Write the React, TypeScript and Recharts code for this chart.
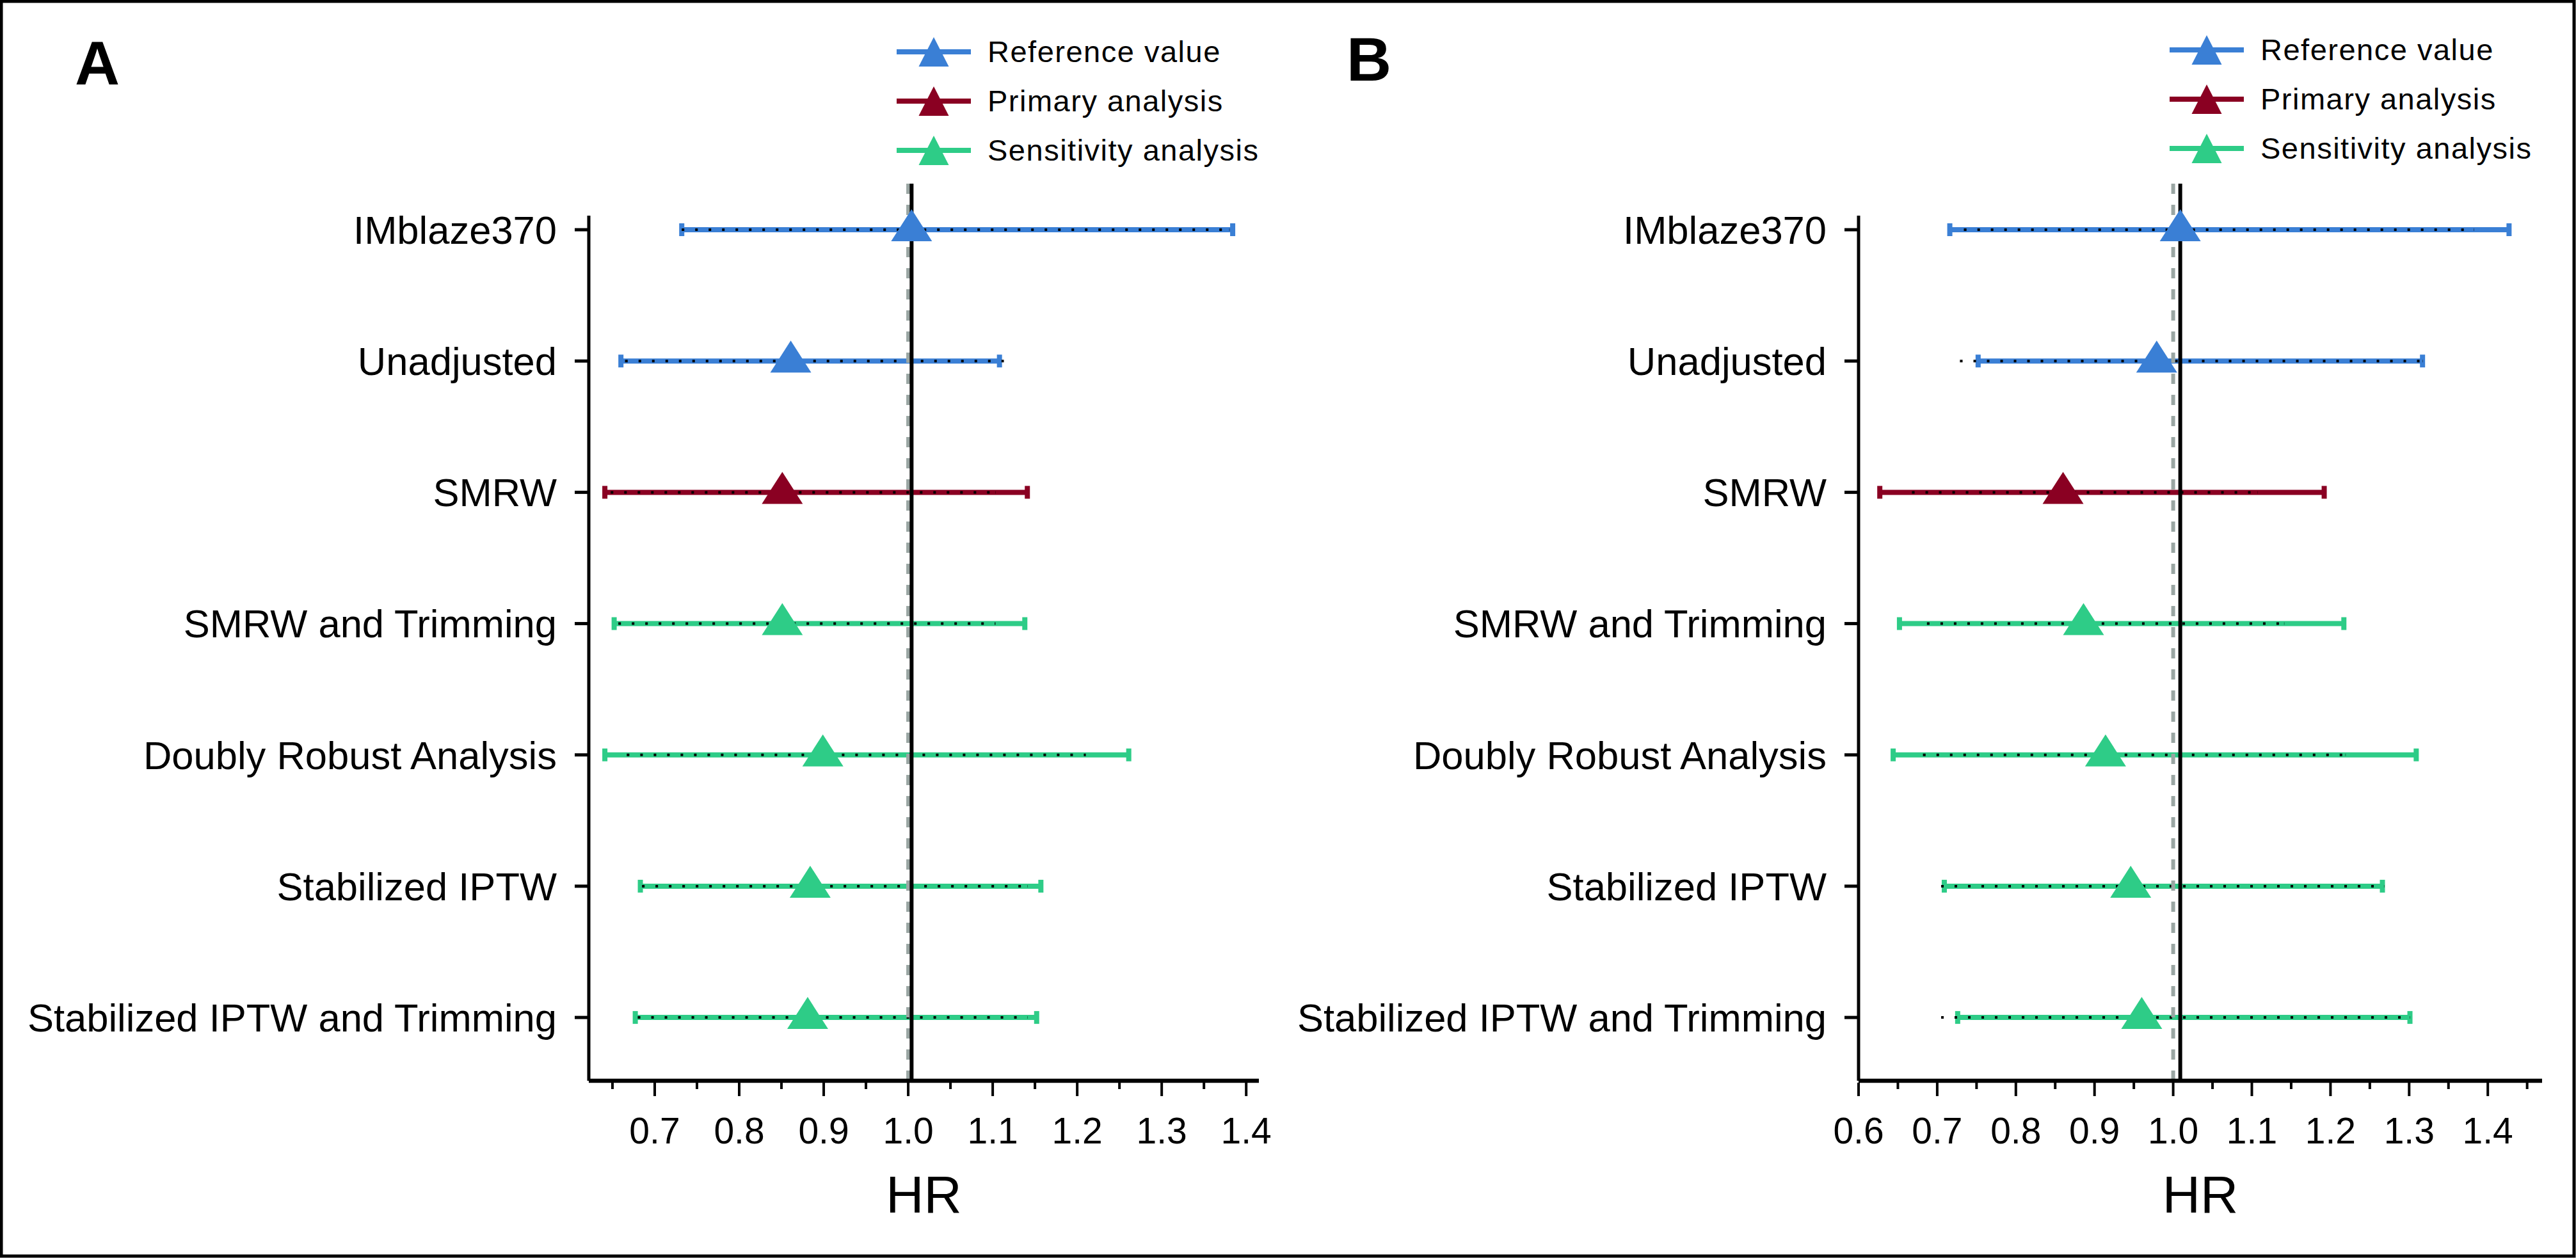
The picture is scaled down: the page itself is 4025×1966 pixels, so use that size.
import React from 'react';
import { ScatterChart, Scatter, XAxis, YAxis, ErrorBar, ReferenceLine, Legend, Label } from 'recharts';

const FONT = "'Liberation Sans', Arial, Helvetica, sans-serif";
const NARROW = "'Liberation Sans Narrow', 'Liberation Sans', Arial, sans-serif";

// ---------- categories ----------
const rowLabels = [
  'IMblaze370',
  'Unadjusted',
  'SMRW',
  'SMRW and Trimming',
  'Doubly Robust Analysis',
  'Stabilized IPTW',
  'Stabilized IPTW and Trimming',
];
const rowGroup = ['ref', 'ref', 'primary', 'sens', 'sens', 'sens', 'sens'];
const rowIndex = [0, 1, 2, 3, 4, 5, 6];

const groupKeys = ['ref', 'primary', 'sens'];
const groupNames = ['Reference value', 'Primary analysis', 'Sensitivity analysis'];
const groupColors = ['#3A7FD5', '#8A0022', '#2ECC87'];

// ---------- panel A values ----------
const hrA = [1.004, 0.861, 0.851, 0.851, 0.899, 0.884, 0.881];
const loA = [0.732, 0.66, 0.641, 0.652, 0.641, 0.683, 0.677];
const hiA = [1.384, 1.108, 1.141, 1.138, 1.261, 1.157, 1.152];
const dotLoA = [0.732, 0.665, 0.648, 0.657, 0.667, 0.685, 0.68];
const dotHiA = [1.38, 1.113, 1.103, 1.103, 1.21, 1.141, 1.141];

// ---------- panel B values ----------
const hrB = [1.009, 0.979, 0.86, 0.886, 0.914, 0.946, 0.96];
const loB = [0.716, 0.752, 0.627, 0.652, 0.644, 0.709, 0.726];
const hiB = [1.427, 1.317, 1.192, 1.217, 1.309, 1.266, 1.301];
const dotLoB = [0.734, 0.729, 0.668, 0.687, 0.682, 0.705, 0.705];
const dotHiB = [1.382, 1.317, 1.107, 1.141, 1.219, 1.268, 1.301];

// ---------- tick labels ----------
const majorTicksA = [0.7, 0.8, 0.9, 1.0, 1.1, 1.2, 1.3, 1.4];
const minorTicksA = [0.65, 0.75, 0.85, 0.95, 1.05, 1.15, 1.25, 1.35];
const majorTicksB = [0.6, 0.7, 0.8, 0.9, 1.0, 1.1, 1.2, 1.3, 1.4];
const minorTicksB = [0.65, 0.75, 0.85, 0.95, 1.05, 1.15, 1.25, 1.35, 1.45];
const domainA = [0.622, 1.415];
const domainB = [0.6, 1.469];
const nullValue = 1.0;
const yDomain = [-0.351, 6.482];
const yAxisTop = -0.107;

const CHART_H = 1966;

function buildRows(hr: number[], lo: number[], hi: number[], dlo: number[], dhi: number[]) {
  return hr.map((v, i) => ({
    y: rowIndex[i],
    x: v,
    group: rowGroup[i],
    err: [v - lo[i], hi[i] - v],
    dot: [v - dlo[i], dhi[i] - v],
  }));
}

const Tri = (props: any) => {
  const { cx, cy, color } = props;
  if (cx == null || cy == null) return <g />;
  return <polygon points={`${cx - 32},${cy + 18} ${cx + 32},${cy + 18} ${cx},${cy - 32}`} fill={color} />;
};

const XTick = (props: any) => {
  const { x, y, payload, majors } = props;
  const isMajor = majors.some((m: number) => Math.abs(m - payload.value) < 1e-9);
  return (
    <g>
      <line x1={x} x2={x} y1={y + 3} y2={y + (isMajor ? 24 : 13)} stroke="#000" strokeWidth={4} />
      {isMajor && (
        <text x={x} y={y + 98} textAnchor="middle" fontSize={57} fontFamily={FONT} fill="#000">
          {Number(payload.value).toFixed(1)}
        </text>
      )}
    </g>
  );
};

const LegendBox = () => (
  <svg width={600} height={240} style={{ display: 'block', overflow: 'visible' }}>
    {groupNames.map((n, i) => {
      const cy = 41 + i * 77;
      const c = groupColors[i];
      return (
        <g key={n}>
          <line x1={0} x2={116} y1={cy} y2={cy} stroke={c} strokeWidth={8} />
          <polygon points={`${58 - 23.5},${cy + 23} ${58 + 23.5},${cy + 23} 58,${cy - 23}`} fill={c} />
          <text x={142} y={cy + 16} fontSize={47} letterSpacing={1.5} fontFamily={FONT} fill="#000">
            {n}
          </text>
        </g>
      );
    })}
  </svg>
);

type PanelProps = {
  left: number;
  width: number;
  plotLeft: number;
  plotRight: number;
  hr: number[];
  lo: number[];
  hi: number[];
  dlo: number[];
  dhi: number[];
  majors: number[];
  minors: number[];
  domain: number[];
  legendLeft: number;
  legendTop: number;
};

const Panel = (p: PanelProps) => {
  const rows = buildRows(p.hr, p.lo, p.hi, p.dlo, p.dhi);
  const allTicks = [...p.majors, ...p.minors].sort((a, b) => a - b);
  const YW = p.plotLeft - 20;
  const XH = 150;
  const plotBottom = 1689;
  return (
    <div style={{ position: 'absolute', left: p.left, top: 0 }}>
      <ScatterChart
        width={p.width}
        height={CHART_H}
        margin={{ top: 287, left: 20, right: p.width - p.plotRight, bottom: CHART_H - plotBottom - XH }}
      >
        <XAxis
          type="number"
          dataKey="x"
          domain={p.domain}
          allowDataOverflow
          ticks={allTicks}
          interval={0}
          height={XH}
          tickLine={false}
          tickSize={0}
          tickMargin={0}
          axisLine={{ stroke: '#000', strokeWidth: 6.5 }}
          tick={(tp: any) => <XTick {...tp} majors={p.majors} />}
        >
          <Label
            content={(lp: any) => {
              const vb = lp.viewBox || {};
              return (
                <text
                  x={(vb.x ?? 0) + (vb.width ?? 0) / 2}
                  y={(vb.y ?? plotBottom) + 206}
                  textAnchor="middle"
                  fontSize={82}
                  fontFamily={NARROW}
                  fill="#000"
                >
                  HR
                </text>
              );
            }}
          />
        </XAxis>
        <YAxis
          type="number"
          dataKey="y"
          domain={yDomain}
          allowDataOverflow
          reversed
          ticks={rowIndex}
          interval={0}
          width={YW}
          axisLine={false}
          tickLine={{ stroke: '#000', strokeWidth: 5 }}
          tickSize={22}
          tickMargin={28}
          tickFormatter={(v: number) => rowLabels[v] ?? ''}
          tick={{ fontSize: 61.5, fill: '#000', fontFamily: FONT }}
        />
        {groupKeys.map((g, gi) => (
          <Scatter
            key={g}
            name={groupNames[gi]}
            data={rows.filter((r) => r.group === g)}
            fill={groupColors[gi]}
            isAnimationActive={false}
            shape={(sp: any) => <Tri {...sp} color={groupColors[gi]} />}
          >
            <ErrorBar
              dataKey="err"
              direction="x"
              width={10}
              stroke={groupColors[gi]}
              strokeWidth={8}
              isAnimationActive={false}
            />
          </Scatter>
        ))}
        <Scatter
          name="dotted"
          data={rows}
          legendType="none"
          isAnimationActive={false}
          shape={() => <g />}
        >
          <ErrorBar
            dataKey="dot"
            direction="x"
            width={0}
            stroke="#000"
            strokeWidth={4}
            strokeDasharray="4 17"
            isAnimationActive={false}
          />
        </Scatter>
        <ReferenceLine x={nullValue} stroke="#9AA6A3" strokeWidth={6} strokeDasharray="16 17" ifOverflow="visible" />
        <ReferenceLine x={p.hr[0]} stroke="#000" strokeWidth={6} ifOverflow="visible" />
        <ReferenceLine
          segment={[
            { x: p.domain[0], y: yAxisTop },
            { x: p.domain[0], y: yDomain[1] },
          ]}
          stroke="#000"
          strokeWidth={5}
          ifOverflow="visible"
        />
        <Legend
          layout="vertical"
          align="center"
          verticalAlign="middle"
          content={() => <LegendBox />}
          wrapperStyle={{ position: 'absolute', left: p.legendLeft, top: p.legendTop, width: 600, height: 240 }}
        />
      </ScatterChart>
    </div>
  );
};

export default function App() {
  return (
    <div
      style={{
        position: 'absolute',
        left: 0,
        top: 0,
        width: 4025,
        height: 1966,
        background: '#fff',
        fontFamily: FONT,
        overflow: 'hidden',
      }}
    >
      <Panel
        left={0}
        width={2012}
        plotLeft={920}
        plotRight={1967}
        hr={hrA}
        lo={loA}
        hi={hiA}
        dlo={dotLoA}
        dhi={dotHiA}
        majors={majorTicksA}
        minors={minorTicksA}
        domain={domainA}
        legendLeft={1401}
        legendTop={40}
      />
      <Panel
        left={2012}
        width={2013}
        plotLeft={892}
        plotRight={1960}
        hr={hrB}
        lo={loB}
        hi={hiB}
        dlo={dotLoB}
        dhi={dotHiB}
        majors={majorTicksB}
        minors={minorTicksB}
        domain={domainB}
        legendLeft={1378}
        legendTop={37}
      />
      <svg
        width={4025}
        height={1966}
        style={{ position: 'absolute', left: 0, top: 0, pointerEvents: 'none' }}
      >
        <text x={117} y={132} fontSize={97} fontWeight="bold" fontFamily={FONT} fill="#000">
          A
        </text>
        <text x={2104} y={126} fontSize={97} fontWeight="bold" fontFamily={FONT} fill="#000">
          B
        </text>
        <rect x={2} y={2} width={4020} height={1961} fill="none" stroke="#000" strokeWidth={5} />
      </svg>
    </div>
  );
}
